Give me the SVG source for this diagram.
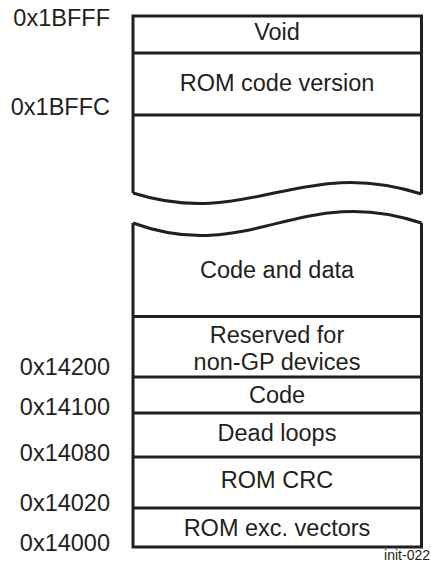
<svg xmlns="http://www.w3.org/2000/svg" width="431" height="563" viewBox="0 0 431 563">
<style>
text{font-family:"Liberation Sans",Arial,sans-serif;fill:#231f20}
.lbl{font-size:23.5px;text-anchor:end}
.cell{font-size:23.5px;text-anchor:middle}
.ln{stroke:#231f20;stroke-width:3;fill:none}
.tag{font-size:14px;text-anchor:end}
</style>
<rect width="431" height="563" fill="#fff"/>
<g id="addresses">
<text class="lbl" x="110" y="26">0x1BFFF</text>
<text class="lbl" x="110" y="115">0x1BFFC</text>
<text class="lbl" x="110" y="375">0x14200</text>
<text class="lbl" x="110" y="415">0x14100</text>
<text class="lbl" x="110" y="461">0x14080</text>
<text class="lbl" x="110" y="511">0x14020</text>
<text class="lbl" x="110" y="551">0x14000</text>
</g>
<g id="upper-block">
<path class="ln" d="M133,193 L133,16 L421.5,16 L421.5,194"/>
<path class="ln" d="M133,193 C250,230 300,155 421.5,194"/>
</g>
<g id="lower-block">
<path class="ln" d="M133,223 L133,547 L421.5,547 L421.5,223"/>
<path class="ln" d="M133,223 C250,266 300,182 421.5,223"/>
</g>
<g id="void"><line class="ln" x1="133" y1="53" x2="421.5" y2="53"/><text class="cell" x="277" y="40">Void</text></g>
<g id="rom-version"><line class="ln" x1="133" y1="115" x2="421.5" y2="115"/><text class="cell" x="277" y="91">ROM code version</text></g>
<g id="code-data"><line class="ln" x1="133" y1="316.5" x2="421.5" y2="316.5"/><text class="cell" x="277" y="278">Code and data</text></g>
<g id="reserved"><line class="ln" x1="133" y1="377" x2="421.5" y2="377"/><text class="cell" x="277" y="343">Reserved for</text><text class="cell" x="277" y="370">non-GP devices</text></g>
<g id="code"><line class="ln" x1="133" y1="413" x2="421.5" y2="413"/><text class="cell" x="277" y="403">Code</text></g>
<g id="dead-loops"><line class="ln" x1="133" y1="457" x2="421.5" y2="457"/><text class="cell" x="277" y="441">Dead loops</text></g>
<g id="rom-crc"><line class="ln" x1="133" y1="508" x2="421.5" y2="508"/><text class="cell" x="277" y="488">ROM CRC</text></g>
<g id="rom-exc"><text class="cell" x="277" y="536">ROM exc. vectors</text></g>
<text class="tag" x="430" y="560">init-022</text>
</svg>
